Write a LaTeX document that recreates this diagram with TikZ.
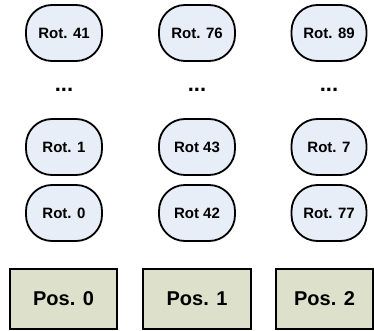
\documentclass[tikz,border=0pt]{standalone}
\usepackage{fontspec}
\setmainfont{Liberation Sans}
\definecolor{rotfill}{HTML}{E8EEF8}
\definecolor{posfill}{HTML}{DDE0CB}
\begin{document}
\begin{tikzpicture}[x=1pt,y=-1pt,
  rotbox/.style={draw=black, line width=1.8pt, fill=rotfill, rounded corners=26pt,
    minimum width=76pt, minimum height=56pt, inner sep=0pt,
    font=\fontsize{15}{18}\selectfont\bfseries},
  posbox/.style={draw=black, line width=1.5pt, fill=posfill,
    minimum height=60pt, inner sep=0pt,
    font=\fontsize{20}{24}\selectfont\bfseries},
  dotsnode/.style={anchor=base, inner sep=0pt, font=\fontsize{22}{26}\selectfont\bfseries}]
\useasboundingbox (0,0) rectangle (374,331);
% column 0
\node[rotbox] (r41) at (64,33) {Rot. 41};
\node[dotsnode] (d0) at (64,91.5) {...};
\node[rotbox] (r1) at (64,147) {Rot. 1};
\node[rotbox] (r0) at (64,213) {Rot. 0};
% column 1
\node[rotbox] (r76) at (197,33) {Rot. 76};
\node[dotsnode] (d1) at (197,91.5) {...};
\node[rotbox] (r43) at (197,147) {Rot 43};
\node[rotbox] (r42) at (197,213) {Rot 42};
% column 2
\node[rotbox, minimum width=75pt] (r89) at (329,33) {Rot. 89};
\node[dotsnode] (d2) at (329,91.5) {...};
\node[rotbox, minimum width=75pt] (r7) at (329,147) {Rot. 7};
\node[rotbox, minimum width=75pt] (r77) at (329,213) {Rot. 77};
% positions
\node[posbox, minimum width=107pt] (p0) at (63.5,299) {Pos. 0};
\node[posbox, minimum width=108pt] (p1) at (197,299) {Pos. 1};
\node[posbox, minimum width=97pt] (p2) at (324.5,299) {Pos. 2};
\end{tikzpicture}
\end{document}
